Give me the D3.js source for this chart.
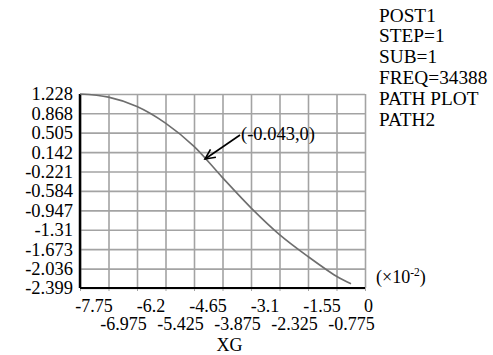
<!DOCTYPE html>
<html>
<head>
<meta charset="utf-8">
<script src="https://cdn.jsdelivr.net/npm/d3@7"></script>
<style>
  body { margin: 0; background: #fff; }
</style>
</head>
<body>
<div class="canvas"></div>
<script>
// Data
const xTicksTop = [-7.75, -6.2, -4.65, -3.1, -1.55, 0];
const xTicksBottom = [-6.975, -5.425, -3.875, -2.325, -0.775];
const yTicks = [1.228, 0.868, 0.505, 0.142, -0.221, -0.584, -0.947, -1.31, -1.673, -2.036, -2.399];
const pathX = [-7.75, -6.975, -6.2, -5.425, -4.65, -3.875, -3.1, -2.325, -1.55, -0.775, -0.38];
const pathY = [1.228, 1.170, 0.995, 0.685, 0.250, -0.335, -0.900, -1.400, -1.810, -2.180, -2.320];
const infoLines = ['POST1', 'STEP=1', 'SUB=1', 'FREQ=34388', 'PATH PLOT', 'PATH2'];
const note = {x: -4.35, y: 0.013, label: '(-0.043,0)'};

// Graph set up
const svgWidth = 493;
const svgHeight = 355;
const margin = {top: 94, right: 128, bottom: 67, left: 80};
const graphWidth = svgWidth - margin.left - margin.right;
const graphHeight = svgHeight - margin.top - margin.bottom;

const svg = d3.select('.canvas')
    .append('svg')
    .attr('width', svgWidth)
    .attr('height', svgHeight);

const graph = svg.append('g')
    .attr('transform', `translate(${margin.left},${margin.top})`);

// Scales
const x = d3.scaleLinear().domain([-7.75, 0]).range([0, graphWidth]);
const y = d3.scaleLinear().domain([-2.399, 1.228]).range([graphHeight, 0]);

const allX = xTicksTop.concat(xTicksBottom);

// grid
graph.append('g')
    .attr('class', 'x-grid')
    .attr('transform', `translate(0,${graphHeight})`)
    .call(d3.axisBottom(x).tickValues(allX).tickSize(-graphHeight).tickFormat(''))
    .call(g => g.select('.domain').remove())
    .selectAll('line')
    .attr('stroke', '#a3a3a3')
    .attr('stroke-width', 1.6);

graph.append('g')
    .attr('class', 'y-grid')
    .call(d3.axisLeft(y).tickValues(yTicks).tickSize(-graphWidth).tickFormat(''))
    .call(g => g.select('.domain').remove())
    .selectAll('line')
    .attr('stroke', '#a3a3a3')
    .attr('stroke-width', 1.6);

// small ticks under the x axis
graph.append('g')
    .attr('transform', `translate(0,${graphHeight})`)
    .call(d3.axisBottom(x).tickValues(allX).tickSize(3).tickFormat(''))
    .call(g => g.select('.domain').remove())
    .selectAll('line')
    .attr('stroke', '#a3a3a3');

// axis lines
graph.append('line')
    .attr('x1', 0).attr('x2', 0)
    .attr('y1', 0).attr('y2', graphHeight)
    .attr('stroke', '#000')
    .attr('stroke-width', 2.5);

graph.append('line')
    .attr('x1', 0).attr('x2', graphWidth)
    .attr('y1', graphHeight).attr('y2', graphHeight)
    .attr('stroke', '#000')
    .attr('stroke-width', 2);

// y labels
graph.selectAll('.ylab')
    .data(yTicks)
    .enter()
    .append('text')
        .attr('class', 'ylab')
        .attr('x', -7)
        .attr('y', d => y(d))
        .attr('dy', '0.35em')
        .attr('text-anchor', 'end')
        .style('font-size', '18.5px')
        .text(d => d);

// x labels, two rows
graph.selectAll('.xlab-top')
    .data(xTicksTop)
    .enter()
    .append('text')
        .attr('class', 'xlab-top')
        .attr('x', d => Math.min(x(d) + 14, graphWidth + 3.5))
        .attr('y', graphHeight + 24)
        .attr('text-anchor', 'middle')
        .style('font-size', '18px')
        .text(d => d);

graph.selectAll('.xlab-bottom')
    .data(xTicksBottom)
    .enter()
    .append('text')
        .attr('class', 'xlab-bottom')
        .attr('x', d => x(d) + 15)
        .attr('y', graphHeight + 42)
        .attr('text-anchor', 'middle')
        .style('font-size', '18px')
        .text(d => d);

graph.append('text')
    .attr('x', x(-3.875) + 7)
    .attr('y', graphHeight + 63)
    .attr('text-anchor', 'middle')
    .style('font-size', '18px')
    .text('XG');

// curve
const line = d3.line()
    .x((d, i) => x(pathX[i]))
    .y(d => y(d))
    .curve(d3.curveCatmullRom);

graph.append('path')
    .datum(pathY)
    .attr('fill', 'none')
    .attr('stroke', '#6e6e6e')
    .attr('stroke-width', 1.6)
    .attr('d', line);

// annotation arrow
const tipX = x(note.x);
const tipY = y(note.y);
const fromX = tipX + 35;
const fromY = tipY - 24;
const ang = Math.atan2(fromY - tipY, fromX - tipX);
const head = 11;

graph.append('line')
    .attr('x1', fromX).attr('y1', fromY)
    .attr('x2', tipX).attr('y2', tipY)
    .attr('stroke', '#000')
    .attr('stroke-width', 1.6);

graph.append('path')
    .attr('d', `M${tipX + head * Math.cos(ang + 0.45)},${tipY + head * Math.sin(ang + 0.45)}L${tipX},${tipY}L${tipX + head * Math.cos(ang - 0.45)},${tipY + head * Math.sin(ang - 0.45)}`)
    .attr('fill', 'none')
    .attr('stroke', '#000')
    .attr('stroke-width', 1.6);

graph.append('text')
    .attr('x', fromX + 1)
    .attr('y', fromY + 5)
    .style('font-size', '18.5px')
    .text(note.label);

// multiplier
const mult = graph.append('text')
    .attr('x', graphWidth + 11)
    .attr('y', graphHeight - 5)
    .style('font-size', '18px');
mult.append('tspan').text('(×10');
mult.append('tspan').attr('dy', -7).style('font-size', '11.5px').text('-2');
mult.append('tspan').attr('dy', 7).text(')');

// info block
svg.selectAll('.info')
    .data(infoLines)
    .enter()
    .append('text')
        .attr('class', 'info')
        .attr('x', 379)
        .attr('y', (d, i) => 21.5 + i * 20.8)
        .style('font-size', '19.3px')
        .text(d => d);

// Times-like font on every text
svg.selectAll('text')
    .style('font-family', '"Liberation Serif", serif')
    .style('fill', '#000');
</script>
</body>
</html>
